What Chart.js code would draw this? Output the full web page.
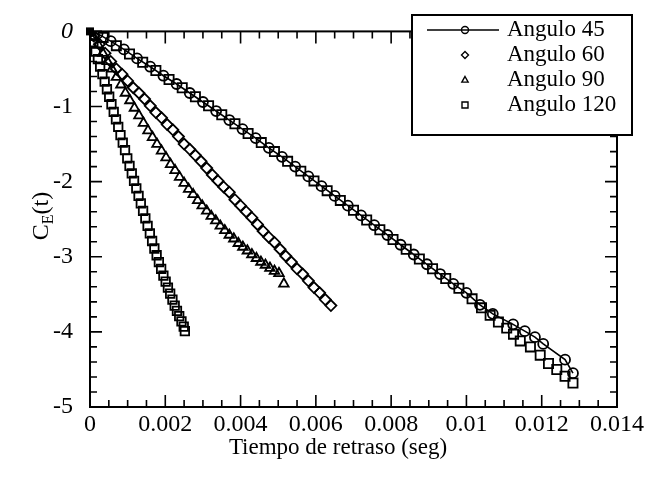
<!DOCTYPE html>
<html>
<head>
<meta charset="utf-8">
<script src="https://cdn.jsdelivr.net/npm/chart.js@4/dist/chart.umd.min.js"></script>
<style>
  html, body { margin: 0; padding: 0; background: #fff; }
  #wrap { width: 649px; height: 482px; position: relative; }
</style>
</head>
<body>
<div id="wrap"><canvas id="chart" width="649" height="482"></canvas></div>
<script>
// tiempo de retraso (seg) y C_E(t) para cada angulo
const t45 = [0, 0.0002, 0.00055, 0.0009, 0.00125, 0.0016, 0.00195, 0.0023, 0.00265, 0.003, 0.00335, 0.0037, 0.00405, 0.0044, 0.00475, 0.0051, 0.00545, 0.0058, 0.00615, 0.0065, 0.00685, 0.0072, 0.00755, 0.0079, 0.00825, 0.0086, 0.00895, 0.0093, 0.00965, 0.01, 0.01036, 0.0107, 0.01124, 0.01155, 0.01182, 0.01204, 0.01262, 0.01283];
const c45 = [0, -0.03, -0.13, -0.24, -0.36, -0.47, -0.59, -0.70, -0.82, -0.94, -1.06, -1.18, -1.30, -1.42, -1.55, -1.67, -1.80, -1.93, -2.06, -2.19, -2.32, -2.45, -2.58, -2.71, -2.84, -2.97, -3.10, -3.23, -3.36, -3.48, -3.64, -3.76, -3.90, -3.99, -4.07, -4.16, -4.37, -4.55];

// segunda corrida (cuadros) sobre la misma recta
const t45b = [0.00035, 0.0007, 0.00105, 0.0014, 0.00175, 0.0021, 0.00245, 0.0028, 0.00315, 0.0035, 0.00385, 0.0042, 0.00455, 0.0049, 0.00525, 0.0056, 0.00595, 0.0063, 0.00665, 0.007, 0.00735, 0.0077, 0.00805, 0.0084, 0.00875, 0.0091, 0.00945, 0.0098, 0.01015, 0.0104, 0.01063, 0.01085, 0.01107, 0.01125, 0.01143, 0.0117, 0.01196, 0.01218, 0.0124, 0.01262, 0.01283];
const c45b = [-0.08, -0.19, -0.30, -0.41, -0.52, -0.64, -0.75, -0.87, -0.99, -1.11, -1.23, -1.36, -1.48, -1.60, -1.73, -1.86, -1.99, -2.12, -2.25, -2.38, -2.51, -2.64, -2.77, -2.90, -3.03, -3.16, -3.29, -3.42, -3.56, -3.68, -3.78, -3.87, -3.95, -4.03, -4.12, -4.20, -4.31, -4.42, -4.50, -4.59, -4.68];

const t60 = [0, 0.0001, 0.00025, 0.0004, 0.00055, 0.0007, 0.00085, 0.001, 0.00115, 0.0013, 0.00145, 0.0016, 0.00175, 0.0019, 0.00205, 0.0022, 0.00235, 0.0025, 0.00265, 0.0028, 0.00295, 0.0031, 0.00325, 0.0034, 0.00355, 0.0037, 0.00385, 0.004, 0.00415, 0.0043, 0.00445, 0.0046, 0.00475, 0.0049, 0.00505, 0.0052, 0.00535, 0.0055, 0.00565, 0.0058, 0.00595, 0.0061, 0.00625, 0.0064];
const c60 = [0, -0.06, -0.17, -0.29, -0.40, -0.50, -0.57, -0.66, -0.75, -0.82, -0.90, -0.99, -1.08, -1.15, -1.24, -1.31, -1.40, -1.50, -1.57, -1.65, -1.73, -1.82, -1.91, -1.99, -2.07, -2.14, -2.24, -2.32, -2.40, -2.48, -2.57, -2.66, -2.74, -2.81, -2.90, -2.99, -3.07, -3.16, -3.23, -3.32, -3.41, -3.48, -3.57, -3.65];

const t90 = [0, 0.0001, 0.00022, 0.00034, 0.00046, 0.00058, 0.0007, 0.00082, 0.00094, 0.00106, 0.00118, 0.0013, 0.00142, 0.00154, 0.00166, 0.00178, 0.0019, 0.00202, 0.00214, 0.00226, 0.00238, 0.0025, 0.00262, 0.00274, 0.00286, 0.00298, 0.0031, 0.00322, 0.00334, 0.00346, 0.00358, 0.0037, 0.00382, 0.00394, 0.00406, 0.00418, 0.0043, 0.00442, 0.00454, 0.00466, 0.00478, 0.0049, 0.00502, 0.00515];
const c90 = [0, -0.08, -0.18, -0.29, -0.40, -0.50, -0.61, -0.71, -0.82, -0.92, -1.02, -1.12, -1.22, -1.32, -1.41, -1.50, -1.59, -1.68, -1.77, -1.85, -1.94, -2.02, -2.10, -2.17, -2.25, -2.32, -2.39, -2.46, -2.52, -2.59, -2.65, -2.71, -2.76, -2.82, -2.87, -2.92, -2.97, -3.02, -3.07, -3.11, -3.15, -3.19, -3.22, -3.36];

const t120 = [0, 0.00003, 0.00009, 0.00015, 0.00021, 0.00027, 0.00033, 0.00039, 0.00045, 0.00051, 0.00057, 0.00063, 0.00069, 0.00075, 0.00081, 0.00087, 0.00093, 0.00099, 0.00105, 0.00111, 0.00117, 0.00123, 0.00129, 0.00135, 0.00141, 0.00147, 0.00153, 0.00159, 0.00165, 0.00171, 0.00177, 0.00183, 0.00189, 0.00195, 0.00201, 0.00207, 0.00213, 0.00219, 0.00225, 0.00231, 0.00237, 0.00243, 0.00249, 0.00252];
const c120 = [0, -0.05, -0.16, -0.27, -0.37, -0.47, -0.57, -0.67, -0.77, -0.87, -0.97, -1.07, -1.17, -1.27, -1.38, -1.48, -1.58, -1.69, -1.79, -1.89, -1.99, -2.09, -2.19, -2.29, -2.39, -2.49, -2.59, -2.69, -2.79, -2.89, -2.98, -3.07, -3.16, -3.25, -3.33, -3.41, -3.49, -3.57, -3.65, -3.72, -3.79, -3.86, -3.93, -3.99];

const xTickValues = [0, 0.002, 0.004, 0.006, 0.008, 0.01, 0.012, 0.014];
const xTickLabels = ['0', '0.002', '0.004', '0.006', '0.008', '0.01', '0.012', '0.014'];
const yTickValues = [0, -1, -2, -3, -4, -5];
const yTickLabels = ['0', '-1', '-2', '-3', '-4', '-5'];
const legendLabels = ['Angulo 45', 'Angulo 60', 'Angulo 90', 'Angulo 120'];

const SERIF = '"Liberation Serif", "Times New Roman", serif';

function pts(xs, ys) {
  return xs.map((x, i) => ({ x: x, y: ys[i] }));
}

function markerSet(style, radius) {
  return {
    pointStyle: style,
    pointRadius: radius,
    pointHoverRadius: radius,
    pointBorderColor: '#000',
    pointBackgroundColor: 'rgba(0,0,0,0)',
    pointBorderWidth: 1.8,
    showLine: false
  };
}

// marco con marcas hacia dentro en los cuatro lados
const framePlugin = {
  id: 'frame',
  afterDatasetsDraw(chart) {
    const ctx = chart.ctx;
    const a = chart.chartArea;
    const xs = chart.scales.x, ys = chart.scales.y;
    ctx.save();
    ctx.strokeStyle = '#000';
    ctx.lineWidth = 2;
    ctx.strokeRect(a.left, a.top, a.right - a.left, a.bottom - a.top);
    ctx.lineWidth = 1.6;
    ctx.beginPath();
    for (let i = 0; i <= 28; i++) {
      const px = xs.getPixelForValue(i * 0.0005);
      const len = i % 4 === 0 ? 12 : 7;
      ctx.moveTo(px, a.bottom); ctx.lineTo(px, a.bottom - len);
      ctx.moveTo(px, a.top); ctx.lineTo(px, a.top + len);
    }
    for (let j = 0; j <= 25; j++) {
      const py = ys.getPixelForValue(-j * 0.2);
      const len = j % 5 === 0 ? 12 : 7;
      ctx.moveTo(a.left, py); ctx.lineTo(a.left + len, py);
      ctx.moveTo(a.right, py); ctx.lineTo(a.right - len, py);
    }
    ctx.stroke();
    // punto de origen comun
    ctx.fillStyle = '#000';
    ctx.fillRect(xs.getPixelForValue(0) - 4, ys.getPixelForValue(0) - 4, 8, 8);
    ctx.restore();
  }
};

function drawMarker(ctx, style, x, y, r) {
  ctx.beginPath();
  if (style === 'circle') {
    ctx.arc(x, y, r, 0, Math.PI * 2);
  } else if (style === 'rectRot') {
    ctx.moveTo(x, y - r); ctx.lineTo(x + r, y); ctx.lineTo(x, y + r); ctx.lineTo(x - r, y); ctx.closePath();
  } else if (style === 'triangle') {
    ctx.moveTo(x, y - r); ctx.lineTo(x + r * 0.9, y + r * 0.6); ctx.lineTo(x - r * 0.9, y + r * 0.6); ctx.closePath();
  } else {
    ctx.rect(x - r, y - r, 2 * r, 2 * r);
  }
  ctx.stroke();
}

// leyenda con recuadro y titulos de ejes
const annotatePlugin = {
  id: 'annotate',
  afterDraw(chart) {
    const ctx = chart.ctx;
    ctx.save();
    // leyenda
    const bx = 412, by = 15, bw = 220, bh = 120;
    ctx.fillStyle = '#fff';
    ctx.fillRect(bx, by, bw, bh);
    ctx.strokeStyle = '#000';
    ctx.lineWidth = 2;
    ctx.strokeRect(bx, by, bw, bh);
    const styles = ['circle', 'rectRot', 'triangle', 'rect'];
    ctx.font = '23px ' + SERIF;
    ctx.textBaseline = 'middle';
    ctx.textAlign = 'left';
    legendLabels.forEach((lab, i) => {
      const yy = 30 + i * 25;
      ctx.lineWidth = 1.4;
      if (i === 0) {
        ctx.beginPath();
        ctx.moveTo(427, yy); ctx.lineTo(499, yy);
        ctx.stroke();
      }
      drawMarker(ctx, styles[i], 465, yy, i === 3 ? 3 : 3.5);
      ctx.fillStyle = '#000';
      ctx.fillText(lab, 507, yy);
    });
    // titulo eje x
    ctx.textAlign = 'center';
    ctx.fillText('Tiempo de retraso (seg)', 338, 448);
    // titulo eje y: C_E(t)
    ctx.translate(48, 216);
    ctx.rotate(-Math.PI / 2);
    ctx.textBaseline = 'alphabetic';
    ctx.textAlign = 'left';
    ctx.font = '24px ' + SERIF;
    const wC = ctx.measureText('C').width;
    ctx.font = '16px ' + SERIF;
    const wE = ctx.measureText('E').width;
    ctx.font = '24px ' + SERIF;
    const wT = ctx.measureText('(t)').width;
    const x0 = -(wC + wE + wT) / 2;
    ctx.fillText('C', x0, 0);
    ctx.font = '16px ' + SERIF;
    ctx.fillText('E', x0 + wC, 5);
    ctx.font = '24px ' + SERIF;
    ctx.fillText('(t)', x0 + wC + wE, 0);
    ctx.restore();
  }
};

const ctx = document.getElementById('chart').getContext('2d');
new Chart(ctx, {
  type: 'scatter',
  data: {
    datasets: [
      Object.assign({ label: legendLabels[0], data: pts(t45, c45), borderColor: '#000', borderWidth: 1.6 }, markerSet('circle', 5), { showLine: true }),
      Object.assign({ label: 'Angulo 45 (b)', data: pts(t45b, c45b) }, markerSet('rect', 6.5)),
      Object.assign({ label: legendLabels[1], data: pts(t60, c60) }, markerSet('rectRot', 5.5)),
      Object.assign({ label: legendLabels[2], data: pts(t90, c90) }, markerSet('triangle', 5.5)),
      Object.assign({ label: legendLabels[3], data: pts(t120, c120) }, markerSet('rect', 6))
    ]
  },
  options: {
    responsive: false,
    animation: false,
    events: [],
    layout: { padding: { left: 0, right: 32, top: 18, bottom: 0 } },
    plugins: {
      legend: { display: false },
      tooltip: { enabled: false }
    },
    scales: {
      x: {
        type: 'linear',
        min: 0,
        max: 0.014,
        grid: { display: false, drawTicks: false },
        border: { display: false },
        afterBuildTicks: s => { s.ticks = xTickValues.map(v => ({ value: v })); },
        afterFit: s => { s.height = 75; },
        ticks: {
          padding: 3,
          color: '#000',
          font: { family: SERIF, size: 24 },
          callback: v => xTickLabels[xTickValues.indexOf(v)]
        }
      },
      y: {
        type: 'linear',
        min: -5,
        max: 0,
        grid: { display: false, drawTicks: false },
        border: { display: false },
        afterBuildTicks: s => { s.ticks = yTickValues.map(v => ({ value: v })); },
        afterFit: s => { s.width = 90; },
        ticks: {
          padding: 17,
          color: '#000',
          font: c => ({ family: SERIF, size: 24, style: c.tick && c.tick.value === 0 ? 'italic' : 'normal' }),
          callback: v => yTickLabels[yTickValues.indexOf(v)]
        }
      }
    }
  },
  plugins: [framePlugin, annotatePlugin]
});
</script>
</body>
</html>
